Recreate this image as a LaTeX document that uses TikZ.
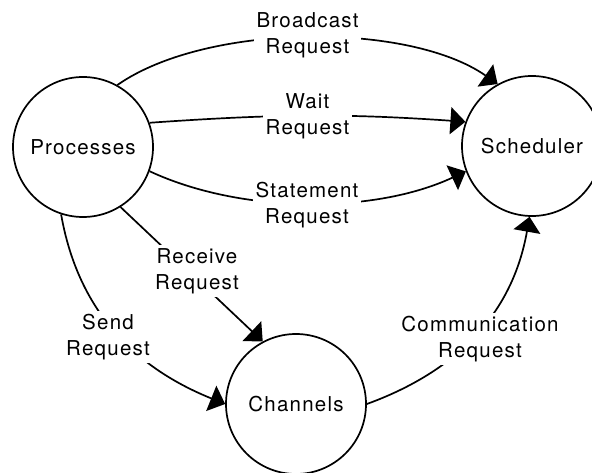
\documentclass[tikz,border=0pt]{standalone}
\usepackage{fontspec}
\setmainfont{TeX Gyre Heros}[LetterSpace=6]
\usetikzlibrary{arrows.meta}

\begin{document}
\begin{tikzpicture}[x=1pt, y=1pt,
    every node/.style={font=\fontsize{20.5}{26}\selectfont},
    proc/.style={circle, draw, line width=1.7pt, minimum size=140pt, inner sep=0pt},
    flow/.style={line width=1.7pt, -{Triangle[length=15pt, width=27pt]}},
    lbl/.style={fill=white, align=center, inner sep=3pt}]
  \useasboundingbox (0,0) rectangle (592,472);

  % the three processes of the system
  \node[proc] (P) at (83,325)  {Processes};
  \node[proc] (S) at (532,326) {Scheduler};
  \node[proc] (C) at (296,68)  {Channels};

  % requests sent between them
  \draw[flow] (P.61)  to[out=35, in=145, looseness=0.73] (S.119);
  \draw[flow] (P.20)  to[out=4, in=176]   (S.160);
  \draw[flow] (P.-20) to[out=-25, in=-155, looseness=0.82] (S.-159);
  \draw[flow] (P.-58) -- (C.118);
  \draw[flow] (P.-108) to[out=-80, in=158] (C.180);
  \draw[flow] (C.0)   to[out=20, in=-100] (S.-92);

  % request labels, laid over the lines
  \node[lbl] (lb) at (307.5,437) {Broadcast\\Request};
  \node[lbl] (lw) at (307.5,356) {Wait\\Request};
  \node[lbl] (ls) at (307,267)   {Statement\\Request};
  \node[lbl] (lr) at (197,201)   {Receive\\Request};
  \node[lbl] (ld) at (108,135)   {Send\\Request};
  \node[lbl] (lc) at (480,133)   {Communication\\Request};
\end{tikzpicture}
\end{document}
